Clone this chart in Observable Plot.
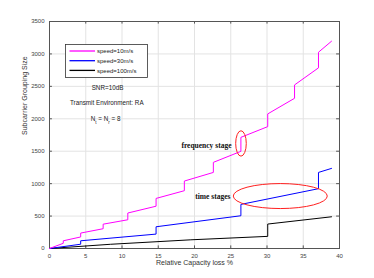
<!DOCTYPE html>
<html><head><meta charset="utf-8">
<script src="https://cdn.jsdelivr.net/npm/d3@7"></script>
<script src="https://cdn.jsdelivr.net/npm/@observablehq/plot@0.6"></script>
<style>body{margin:0;background:#fff}</style>
</head><body><div id="chart"></div>
<script>
// speed = 10 m/s (magenta)
const pinkX = [0,1.9,1.9,4.3,4.3,7.4,7.4,10.8,10.8,14.7,14.7,18.6,18.6,22.6,22.6,26.4,26.4,30.1,30.1,33.8,33.8,37.1,37.1,38.9];
const pinkY = [0,80,119,178,238,305,375,443,547,652,772,891,1040,1173,1328,1498,1714,1879,2075,2316,2522,2785,3026,3196];
// speed = 30 m/s (blue)
const blueX = [0,4.3,4.3,14.7,14.7,26.4,26.4,37.1,37.1,38.9];
const blueY = [0,66,119,222,335,505,680,922,1173,1235];
// speed = 100 m/s (black)
const blackX = [0,8.4,19.5,30.1,30.1,38.9];
const blackY = [0,65,134,187,377,489];

const seriesNames = ["speed=10m/s","speed=30m/s","speed=100m/s"];
const seriesColors = ["#ff00ff","#0000ff","#000000"];
const xTicks = [0,5,10,15,20,25,30,35,40];
const yTicks = [0,500,1000,1500,2000,2500,3000,3500];
const xLabel = "Relative Capacity loss %";
const yLabel = "Subcarrier Grouping Size";
const noteText = ["SNR=10dB","Transmit Environment: RA"];
const noteX = [8.0, 7.9];
const noteY = [2476, 2250];
const stageText = ["frequency stage","time stages"];
const stageX = [25.1, 24.95];
const stageY = [1590, 803];
// ellipses: center x, center y (data)
const ellCX = [26.48, 31.9];
const ellCY = [1612, 801];

const toRows = (xs, ys) => xs.map((x,i)=>({x, y: ys[i]}));

const chart = Plot.plot({
  width: 374, height: 278,
  marginLeft: 49, marginRight: 35, marginTop: 21, marginBottom: 30,
  style: {fontFamily: "'Liberation Sans', Arial, sans-serif", fontSize: "6px", background: "#fff", color: "#333"},
  x: {domain: [0, 40]},
  y: {domain: [0, 3500]},
  marks: [
    Plot.gridX(xTicks, {stroke: "#e3e3e3", strokeOpacity: 1}),
    Plot.gridY(yTicks, {stroke: "#e3e3e3", strokeOpacity: 1}),
    Plot.ruleX(xTicks, {y1: 0, y2: 40, stroke: "#555"}),
    Plot.ruleX(xTicks, {y1: 3500, y2: 3460, stroke: "#555"}),
    Plot.ruleY(yTicks, {x1: 0, x2: 0.4, stroke: "#555"}),
    Plot.ruleY(yTicks, {x1: 40, x2: 39.6, stroke: "#555"}),
    Plot.frame({stroke: "#555"}),
    Plot.axisX(xTicks, {tickSize: 0, tickPadding: 5, label: null, fill: "#444", tickFormat: d => String(d)}),
    Plot.axisY(yTicks, {tickSize: 0, tickPadding: 5, label: null, fill: "#444", tickFormat: d => String(d)}),
    Plot.text([xLabel], {frameAnchor: "bottom", dy: 16.5, text: d => d, fontSize: 7, fill: "#333"}),
    Plot.text([yLabel], {frameAnchor: "left", dx: -25, rotate: -90, text: d => d, fontSize: 7, fill: "#333"}),
    Plot.line(toRows(blackX, blackY), {x: "x", y: "y", stroke: seriesColors[2], strokeWidth: 1}),
    Plot.line(toRows(blueX, blueY), {x: "x", y: "y", stroke: seriesColors[1], strokeWidth: 1}),
    Plot.line(toRows(pinkX, pinkY), {x: "x", y: "y", stroke: seriesColors[0], strokeWidth: 1}),
    Plot.text(noteText, {x: (d,i) => noteX[i], y: (d,i) => noteY[i], text: d => d, fontSize: 6.3, fill: "#222"}),
    Plot.text(stageText, {x: (d,i) => stageX[i], y: (d,i) => stageY[i], text: d => d, textAnchor: "end",
      fontFamily: "'Liberation Serif', 'Times New Roman', serif", fontWeight: "bold", fontSize: 7.5, fill: "#111"})
  ]
});
document.getElementById("chart").appendChild(chart);

const sx = chart.scale("x"), sy = chart.scale("y");
const svg = d3.select(chart);
// ellipses
const ellRX = [5.3, 47], ellRY = [12.7, 12.5];
ellCX.forEach((cx, i) => {
  svg.append("ellipse").attr("cx", sx.apply(cx)).attr("cy", sy.apply(ellCY[i]))
    .attr("rx", ellRX[i]).attr("ry", ellRY[i]).attr("fill", "none").attr("stroke", "#ff2020").attr("stroke-width", 1);
});
// N_t = N_r = 8
const nt = svg.append("text").attr("x", sx.apply(7.8)).attr("y", sy.apply(1998)).attr("dy", "0.35em")
  .attr("text-anchor", "middle").attr("font-size", 6.3).attr("fill", "#222")
  .attr("font-family", "'Liberation Sans', Arial, sans-serif");
nt.append("tspan").text("N");
nt.append("tspan").attr("baseline-shift", "sub").attr("font-size", 4.5).text("t");
nt.append("tspan").text(" = N");
nt.append("tspan").attr("baseline-shift", "sub").attr("font-size", 4.5).text("r");
nt.append("tspan").text(" = 8");
// legend
const lg = svg.append("g").attr("font-family", "'Liberation Sans', Arial, sans-serif").attr("font-size", 6)
  .attr("text-anchor", "start");
lg.append("rect").attr("x", 65.5).attr("y", 44.5).attr("width", 82).attr("height", 33)
  .attr("fill", "#fff").attr("stroke", "#333").attr("stroke-width", 0.8);
seriesNames.forEach((name, i) => {
  const yy = 51 + i * 9.7;
  lg.append("line").attr("x1", 69.5).attr("x2", 95).attr("y1", yy).attr("y2", yy)
    .attr("stroke", seriesColors[i]).attr("stroke-width", 1.3);
  lg.append("text").attr("x", 97).attr("y", yy).attr("dy", "0.35em").attr("fill", "#222").text(name);
});
</script>
</body></html>
